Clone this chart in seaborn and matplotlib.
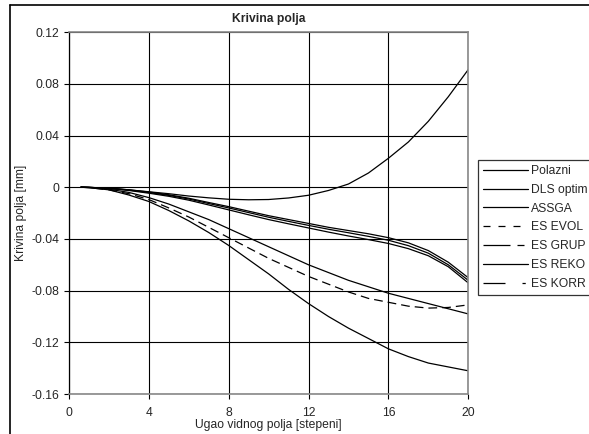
import matplotlib
matplotlib.use("Agg")
import matplotlib.pyplot as plt
import pandas as pd
import seaborn as sns
from matplotlib.lines import Line2D

# Data
ugao = [0.6, 1, 2, 3, 4, 5, 6, 7, 8, 9, 10, 11, 12, 13, 14, 15, 16, 17, 18, 19, 20]

polazni = [0, -0.0001, -0.0008, -0.002, -0.0035, -0.005, -0.0068, -0.0082, -0.0093, -0.0097, -0.0095,
           -0.0083, -0.0062, -0.0025, 0.0025, 0.011, 0.0224, 0.035, 0.051, 0.070, 0.091]
dls_optim = [0, -0.0001, -0.0007, -0.002, -0.0037, -0.0058, -0.0085, -0.0118, -0.0150, -0.0185, -0.022,
             -0.025, -0.028, -0.031, -0.0335, -0.036, -0.039, -0.043, -0.049, -0.058, -0.070]
assga = [0, -0.0001, -0.0008, -0.0022, -0.0041, -0.0063, -0.0091, -0.0126, -0.0160, -0.0196, -0.0232,
         -0.0264, -0.0295, -0.0325, -0.0352, -0.0380, -0.0410, -0.0452, -0.0510, -0.0600, -0.0720]
es_reko = [0, -0.0001, -0.0009, -0.0025, -0.0046, -0.0070, -0.0100, -0.0137, -0.0175, -0.0213, -0.0250,
           -0.0283, -0.0315, -0.0347, -0.0377, -0.0405, -0.0435, -0.0475, -0.0530, -0.0615, -0.0740]
es_evol = [0, -0.0003, -0.002, -0.005, -0.0095, -0.016, -0.023, -0.031, -0.039, -0.047, -0.055,
           -0.062, -0.069, -0.075, -0.081, -0.086, -0.089, -0.092, -0.0935, -0.093, -0.091]
es_grup = [0, -0.0002, -0.0015, -0.004, -0.008, -0.013, -0.019, -0.025, -0.032, -0.039, -0.046,
           -0.053, -0.060, -0.066, -0.072, -0.077, -0.082, -0.086, -0.090, -0.094, -0.098]
es_korr = [0, -0.0003, -0.002, -0.006, -0.011, -0.018, -0.026, -0.035, -0.045, -0.056, -0.067,
           -0.079, -0.090, -0.100, -0.109, -0.117, -0.125, -0.131, -0.136, -0.139, -0.142]

serije = ["Polazni", "DLS optim", "ASSGA", "ES EVOL", "ES GRUP", "ES REKO", "ES KORR"]
vrednosti = [polazni, dls_optim, assga, es_evol, es_grup, es_reko, es_korr]
x_ticks = [0, 4, 8, 12, 16, 20]
y_ticks = [-0.16, -0.12, -0.08, -0.04, 0, 0.04, 0.08, 0.12]
y_labels = ["-0.16", "-0.12", "-0.08", "-0.04", "0", "0.04", "0.08", "0.12"]

sns.set_style("white")
plt.rcParams['font.family'] = ['Liberation Sans', 'DejaVu Sans']
fs = 8.7

df = pd.concat([pd.DataFrame({"ugao": ugao, "kriv": v, "serija": s}) for s, v in zip(serije, vrednosti)])

fig = plt.figure(figsize=(5.89, 4.34), dpi=100)
ax = fig.add_axes([0.117, 0.092, 0.678, 0.834])

# line styles: in the plot only ES EVOL is visibly dashed
stilovi = {"Polazni": "-", "DLS optim": "-", "ASSGA": "-", "ES EVOL": (0, (7, 4)),
           "ES GRUP": "-", "ES REKO": "-", "ES KORR": "-"}
# legend samples as drawn in the reference legend
leg_stilovi = {"Polazni": "-", "DLS optim": "-", "ASSGA": "-", "ES EVOL": (0, (5.6, 6.4)),
               "ES GRUP": (0, (21.6, 5.6, 5.6, 5.6)), "ES REKO": "-",
               "ES KORR": (0, (17.6, 13.6, 2.6, 3))}

for s in serije:
    sns.lineplot(data=df[df["serija"] == s], x="ugao", y="kriv", ax=ax, color="black",
                 linewidth=0.9, linestyle=stilovi[s], legend=False)

ax.set_xlim(0, 20)
ax.set_ylim(-0.16, 0.12)
ax.set_xticks(x_ticks)
ax.set_xticklabels([str(t) for t in x_ticks])
ax.set_yticks(y_ticks)
ax.set_yticklabels(y_labels)
ax.grid(True, color="black", linewidth=0.8)
ax.tick_params(axis="both", labelsize=fs, length=3.5, direction="out", color="black",
               bottom=True, left=True, pad=3.5)
ax.tick_params(axis="x", pad=6)

for sp in ["right", "bottom", "top"]:
    ax.spines[sp].set_color("#888888")
    ax.spines[sp].set_linewidth(1.2)
ax.spines["left"].set_color("black")
ax.spines["left"].set_linewidth(0.9)

ax.set_xlabel("Ugao vidnog polja [stepeni]", fontsize=fs, labelpad=0)
ax.set_ylabel("Krivina polja [mm]", fontsize=fs, labelpad=3)
ax.set_title("Krivina polja", fontsize=fs, fontweight="bold", pad=7)

handles = [Line2D([], [], color="black", linewidth=0.9, linestyle=leg_stilovi[s]) for s in serije]
leg = fig.legend(handles, serije, loc="upper left", bbox_to_anchor=(0.811, 0.632),
                 bbox_transform=fig.transFigure, fontsize=fs, frameon=True, fancybox=False,
                 handlelength=3.7, handletextpad=0.25, labelspacing=0.56, borderpad=0.45,
                 borderaxespad=0)
leg.get_frame().set_edgecolor("black")
leg.get_frame().set_linewidth(0.9)

# outer chart frame
fig.add_artist(Line2D([10 / 589, 10 / 589], [0, 1 - 5 / 434], color="black", linewidth=1.2,
                      transform=fig.transFigure))
fig.add_artist(Line2D([10 / 589, 1], [1 - 5 / 434, 1 - 5 / 434], color="black", linewidth=1.2,
                      transform=fig.transFigure))

fig.savefig("out.png", dpi=100)
